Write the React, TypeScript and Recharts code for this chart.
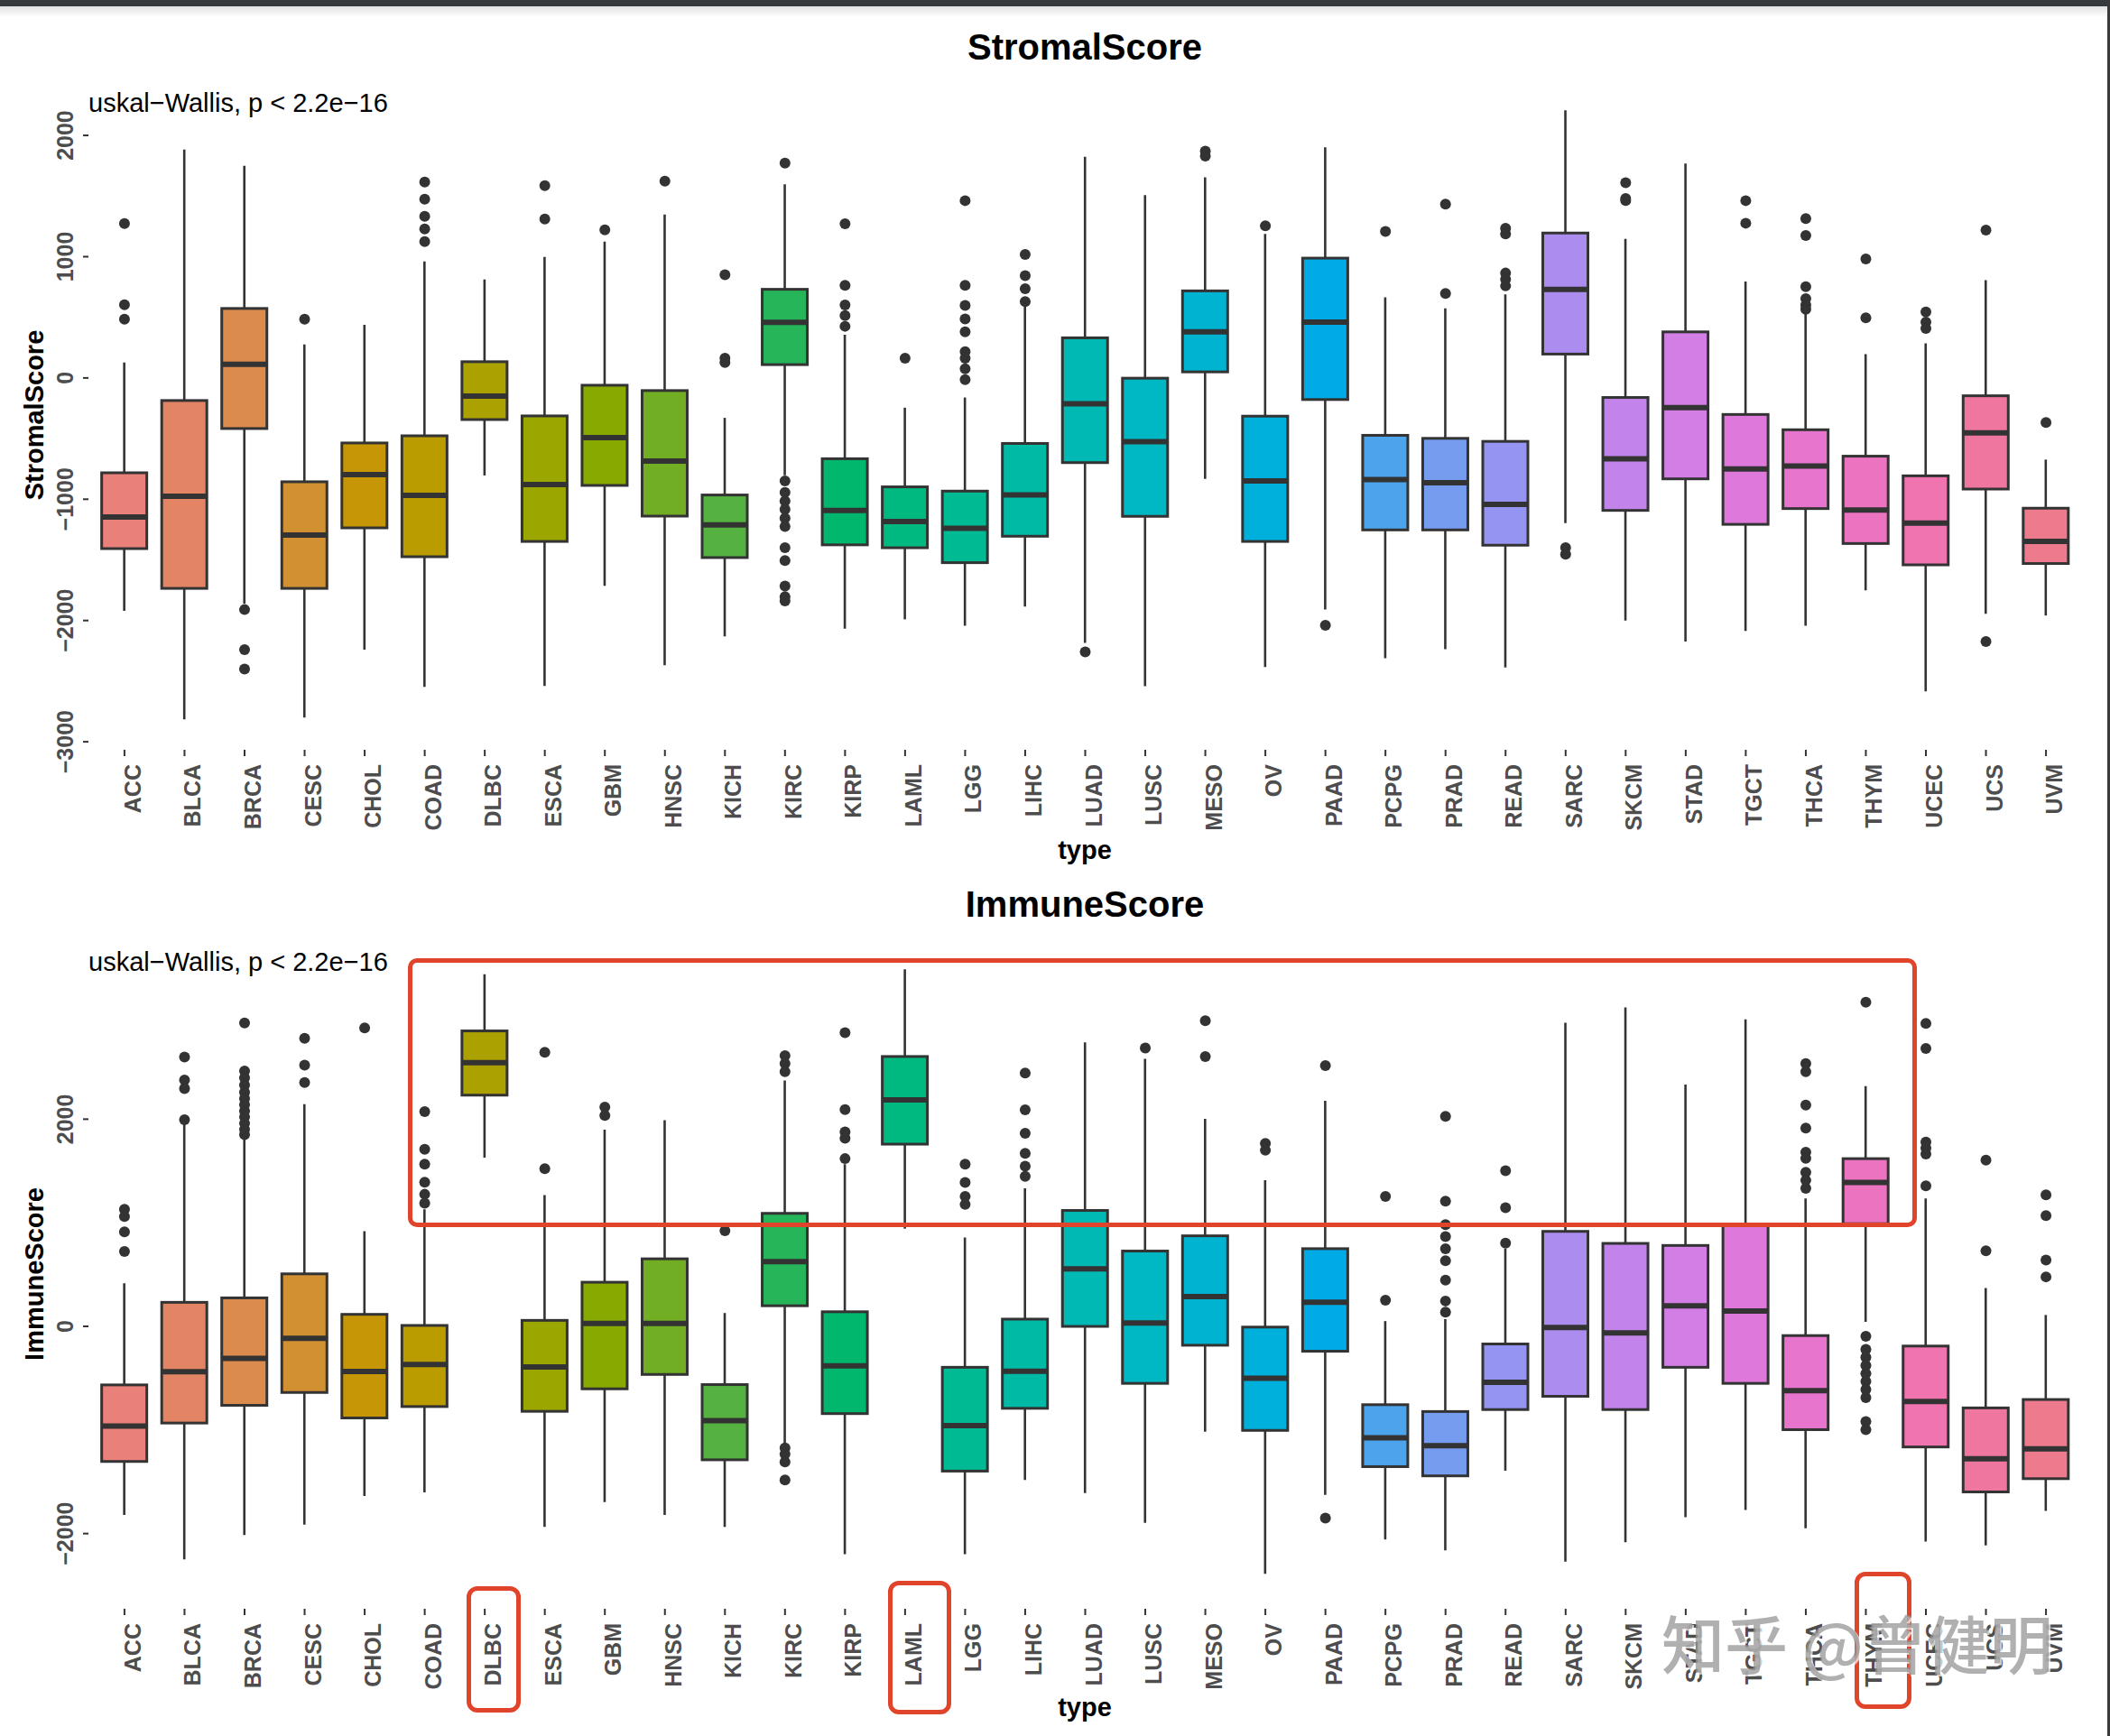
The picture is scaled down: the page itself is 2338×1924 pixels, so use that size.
import { ComposedChart, Bar, Scatter, XAxis, YAxis } from "recharts";

const FONT = '"Liberation Sans", Arial, Helvetica, sans-serif';

const types = ["ACC", "BLCA", "BRCA", "CESC", "CHOL", "COAD", "DLBC", "ESCA", "GBM", "HNSC", "KICH", "KIRC", "KIRP", "LAML", "LGG", "LIHC", "LUAD", "LUSC", "MESO", "OV", "PAAD", "PCPG", "PRAD", "READ", "SARC", "SKCM", "STAD", "TGCT", "THCA", "THYM", "UCEC", "UCS", "UVM"];

// StromalScore: whisker ends, quartiles, median, outliers
const stromalLow = [-1921, -2815, -1860, -2800, -2241, -2547, -804, -2539, -1713, -2368, -2131, -803, -2068, -1990, -2043, -1885, -2184, -2542, -832, -2384, -1910, -2310, -2236, -2387, -1197, -2001, -2173, -2086, -2043, -1751, -2584, -1945, -1959];
const stromalQ1 = [-1407, -1735, -417, -1735, -1236, -1474, -343, -1348, -886, -1139, -1481, 110, -1376, -1400, -1523, -1305, -698, -1141, 50, -1348, -178, -1253, -1253, -1379, 197, -1092, -832, -1207, -1077, -1365, -1541, -916, -1530];
const stromalMedian = [-1147, -975, 112, -1296, -797, -968, -149, -879, -491, -685, -1211, 458, -1092, -1183, -1239, -965, -213, -526, 380, -849, 461, -838, -863, -1042, 731, -666, -245, -751, -726, -1088, -1197, -452, -1348];
const stromalQ3 = [-782, -186, 573, -856, -536, -477, 134, -313, -60, -104, -965, 731, -666, -898, -933, -540, 331, -2, 718, -315, 988, -473, -498, -523, 1195, -161, 380, -301, -427, -645, -807, -147, -1074];
const stromalHigh = [127, 1884, 1750, 276, 439, 960, 812, 998, 1124, 1348, -329, 1596, 356, -245, -161, 590, 1824, 1508, 1655, 1188, 1901, 665, 573, 690, 2207, 1146, 1768, 795, 532, 197, 285, 806, -673];
const stromalOutliers = [
  [1273, 603, 484], [], [-1910, -2240, -2400], [484], [], [1616, 1474, 1333, 1229, 1124], [], [1586, 1310], [1221], [1623],
  [851, 162, 127], [1771, -849, -943, -1014, -1084, -1155, -1225, -1400, -1505, -1716, -1804, -1839], [1272, 763, 602, 514, 426], [162],
  [1462, 763, 598, 486, 380, 216, 162, 75, -13], [1019, 844, 735, 630], [-2258], [], [1870, 1830], [1255], [-2040], [1209], [1434, 696],
  [1234, 1188, 865, 813, 759], [-1400, -1453], [1610, 1480, 1463], [], [1462, 1276], [1314, 1174, 753, 654, 602, 567], [981, 496],
  [545, 461, 408], [1220, -2173], [-368],
];

// ImmuneScore
const immuneLow = [-1820, -2250, -2014, -1913, -1638, -1603, 1629, -1936, -1696, -1820, -1936, -1160, -2200, 944, -2200, -1482, -1610, -1897, -1017, -2388, -1626, -2057, -2161, -1393, -2270, -2084, -1843, -1773, -1948, 43, -2077, -2115, -1781];
const immuneQ1 = [-1304, -933, -762, -638, -884, -774, 2232, -820, -603, -464, -1288, 199, -842, 1759, -1397, -791, 0, -550, -182, -1004, -240, -1354, -1443, -803, -675, -803, -395, -550, -997, 991, -1164, -1598, -1470];
const immuneMedian = [-963, -438, -310, -116, -435, -368, 2545, -391, 29, 29, -911, 626, -380, 2186, -958, -434, 556, 32, 288, -500, 234, -1075, -1152, -539, -11, -62, 199, 149, -620, 1390, -725, -1277, -1183];
const immuneQ3 = [-565, 232, 275, 507, 116, 9, 2852, 58, 426, 652, -562, 1091, 141, 2605, -395, 70, 1119, 727, 874, -7, 750, -756, -822, -170, 917, 801, 781, 975, -89, 1619, -190, -787, -706];
const immuneHigh = [417, 1957, 1812, 2145, 919, 1130, 3400, 1267, 1899, 1991, 129, 2373, 1565, 3448, 858, 1332, 2742, 2583, 2003, 1410, 2178, 51, 70, 750, 2931, 3079, 2334, 2963, 1235, 2318, 1235, 370, 110];
const immuneOutliers = [
  [1130, 1061, 913, 722], [2600, 2377, 2296, 1994], [2928, 2464, 2400, 2330, 2260, 2200, 2140, 2080, 2020, 1960, 1900, 1850],
  [2780, 2522, 2354], [2881], [2072, 1710, 1565, 1391, 1275, 1188], [], [2646, 1522], [2116, 2035], [], [924],
  [2613, 2536, 2458, -1173, -1232, -1309, -1482], [2835, 2093, 1876, 1817, 1619], [], [1565, 1390, 1255, 1177],
  [2446, 2090, 1864, 1670, 1546, 1449], [], [2687], [2951, 2605], [1767, 1701], [2517, -1851], [1255, 253],
  [2027, 1208, 983, 866, 750, 634, 447, 245, 137], [1503, 1146, 804], [], [], [], [],
  [2536, 2458, 2136, 1915, 1682, 1623, 1488, 1410, 1332], [3130, -96, -221, -298, -376, -454, -531, -609, -687, -919, -997],
  [2924, 2683, 1779, 1721, 1663, 1356], [1604, 730], [1270, 1069, 641, 478],
];

// hue palette like ggplot2 (hcl), slightly lower chroma to match the screenshot
function hueColor(h: number) {
  const l = 65, c = 78;
  const hr = (h * Math.PI) / 180;
  const U = c * Math.cos(hr), V = c * Math.sin(hr);
  const Xn = 95.047, Yn = 100, Zn = 108.883;
  const Y = Yn * Math.pow((l + 16) / 116, 3);
  const den = Xn + 15 * Yn + 3 * Zn;
  const u = U / (13 * l) + (4 * Xn) / den;
  const v = V / (13 * l) + (9 * Yn) / den;
  const X = (9 * Y * u) / (4 * v);
  const Z = (Y * (12 - 3 * u - 20 * v)) / (4 * v);
  const x = X / 100, y = Y / 100, z = Z / 100;
  const lin = [
    3.2404542 * x - 1.5371385 * y - 0.4985314 * z,
    -0.969266 * x + 1.8760108 * y + 0.041556 * z,
    0.0556434 * x - 0.2040259 * y + 1.0572252 * z,
  ];
  return "#" + lin.map((ch) => {
    const g = ch <= 0.0031308 ? 12.92 * ch : 1.055 * Math.pow(ch, 1 / 2.4) - 0.055;
    return Math.round(Math.min(1, Math.max(0, g)) * 255).toString(16).padStart(2, "0");
  }).join("");
}
const palette = types.map((_, i) => hueColor(15 + (360 * i) / types.length));

type Row = { idx: number; range: [number, number]; low: number; q1: number; median: number; q3: number; high: number };

function buildRows(low: number[], q1: number[], med: number[], q3: number[], high: number[]): Row[] {
  return types.map((_, i) => ({ idx: i, range: [low[i], high[i]], low: low[i], q1: q1[i], median: med[i], q3: q3[i], high: high[i] }));
}
function buildPoints(outliers: number[][]) {
  return outliers.flatMap((arr, i) => arr.map((value) => ({ idx: i, value })));
}

const stromalRows = buildRows(stromalLow, stromalQ1, stromalMedian, stromalQ3, stromalHigh);
const immuneRows = buildRows(immuneLow, immuneQ1, immuneMedian, immuneQ3, immuneHigh);
const stromalPoints = buildPoints(stromalOutliers);
const immunePoints = buildPoints(immuneOutliers);

const INK = "#333333";

function makeBox(rows: Row[]) {
  return (props: any) => {
    const { x, y, width, height, index } = props;
    const r = rows[index];
    const top = Math.min(y, y + height);
    const h = Math.abs(height);
    const py = (val: number) => top + ((r.high - val) / (r.high - r.low)) * h;
    const cx = x + width / 2;
    return (
      <g>
        <line x1={cx} x2={cx} y1={top} y2={top + h} stroke={INK} strokeWidth={2.6} />
        <rect x={x} y={py(r.q3)} width={width} height={py(r.q1) - py(r.q3)} fill={palette[index]} stroke={INK} strokeWidth={3} />
        <line x1={x} x2={x + width} y1={py(r.median)} y2={py(r.median)} stroke={INK} strokeWidth={6} />
      </g>
    );
  };
}

const Dot = (p: any) => <circle cx={p.cx} cy={p.cy} r={6} fill={INK} />;

const XTick = ({ x, y, payload }: any) => {
  const tx = x + 9, ty = y + 7;
  return (
    <text x={tx} y={ty} transform={`rotate(-90, ${tx}, ${ty})`} textAnchor="end" dominantBaseline="central"
      fontSize={25} fontWeight="bold" fill="#4D4D4D" fontFamily={FONT}>
      {types[payload.value]}
    </text>
  );
};

const YTick = ({ y, payload }: any) => (
  <text x={72} y={y} transform={`rotate(-90, 72, ${y})`} textAnchor="middle" dominantBaseline="central"
    fontSize={25} fontWeight="bold" fill="#4D4D4D" fontFamily={FONT}>
    {String(payload.value).replace("-", "\u2212")}
  </text>
);

function Panel({ rows, points, domain, ticks, top, height, marginTop, marginBottom }: {
  rows: Row[]; points: { idx: number; value: number }[]; domain: [number, number]; ticks: number[];
  top: number; height: number; marginTop: number; marginBottom: number;
}) {
  return (
    <div style={{ position: "absolute", left: 0, top, width: 2338, height }}>
      <ComposedChart width={2338} height={height} data={rows} margin={{ top: marginTop, right: 31, bottom: marginBottom, left: 0 }}>
        <XAxis dataKey="idx" type="number" domain={[-0.6, 32.6]} ticks={types.map((_, i) => i)} interval={0}
          height={120} axisLine={false} tickSize={7} tickMargin={2} tickLine={{ stroke: INK, strokeWidth: 2 }}
          tick={(p: any) => <XTick {...p} />} allowDataOverflow />
        <YAxis type="number" domain={domain} ticks={ticks} width={98} axisLine={false} tickSize={6}
          tickLine={{ stroke: INK, strokeWidth: 2 }} tick={(p: any) => <YTick {...p} />} allowDataOverflow />
        <Bar dataKey="range" barSize={50} shape={makeBox(rows)} isAnimationActive={false} />
        <Scatter data={points} dataKey="value" shape={Dot} isAnimationActive={false} />
      </ComposedChart>
    </div>
  );
}

const Txt = ({ x, y, size, bold, rotate, children }: any) => (
  <div style={{
    position: "absolute", left: x, top: y, whiteSpace: "nowrap", fontSize: size, fontWeight: bold ? "bold" : "normal",
    color: "#000", lineHeight: 1, transform: `translate(-50%, -50%)${rotate ? " rotate(-90deg)" : ""}`,
  }}>
    {children}
  </div>
);

// the p-value note is clipped at the panel's left edge, as in the source figure
const Kruskal = ({ y }: { y: number }) => (
  <div style={{ position: "absolute", left: 98, top: y - 19, width: 600, height: 38, overflow: "hidden" }}>
    <div style={{ marginLeft: -29, fontSize: 29, lineHeight: "38px", whiteSpace: "nowrap", color: "#000" }}>
      Kruskal{"\u2212"}Wallis, p &lt; 2.2e{"\u2212"}16
    </div>
  </div>
);

const RedBox = ({ x, y, w, h, r }: any) => (
  <div style={{ position: "absolute", left: x, top: y, width: w, height: h, boxSizing: "border-box", border: "5px solid #E0442B", borderRadius: r }} />
);

export default function App() {
  return (
    <div style={{ position: "absolute", left: 0, top: 0, width: 2338, height: 1924, background: "#fff", overflow: "hidden", fontFamily: FONT }}>
      <div style={{ position: "absolute", left: 0, top: 0, width: 2338, height: 7, background: "#36393d" }} />
      <div style={{ position: "absolute", left: 0, top: 7, width: 2338, height: 12, background: "linear-gradient(#e2e2e2, #ffffff)" }} />
      <div style={{ position: "absolute", left: 2335, top: 0, width: 3, height: 1924, background: "#3a3a3a" }} />

      <Panel rows={stromalRows} points={stromalPoints} domain={[-3066, 2458]} ticks={[-3000, -2000, -1000, 0, 1000, 2000]}
        top={0} height={960} marginTop={88.5} marginBottom={9} />
      <Panel rows={immuneRows} points={immunePoints} domain={[-2726, 3740]} ticks={[-2000, 0, 2000]}
        top={960} height={964} marginTop={80.6} marginBottom={21} />

      <Txt x={1202} y={52} size={40} bold>StromalScore</Txt>
      <Kruskal y={114} />
      <Txt x={38} y={460} size={29} bold rotate>StromalScore</Txt>
      <Txt x={1202} y={942} size={29} bold>type</Txt>

      <Txt x={1202} y={1002} size={40} bold>ImmuneScore</Txt>
      <Kruskal y={1066} />
      <Txt x={38} y={1412} size={29} bold rotate>ImmuneScore</Txt>
      <Txt x={1202} y={1892} size={29} bold>type</Txt>

      <RedBox x={452} y={1062} w={1672} h={298} r={10} />
      <RedBox x={517} y={1758} w={60} h={140} r={12} />
      <RedBox x={984} y={1752} w={70} h={148} r={12} />
      <RedBox x={2055} y={1742} w={63} h={152} r={12} />

      <div style={{
        position: "absolute", left: 1841, top: 1785, fontSize: 70, fontWeight: 500, whiteSpace: "nowrap", lineHeight: 1,
        fontFamily: '"Noto Sans CJK SC", sans-serif', color: "rgba(150,150,150,0.75)", textShadow: "2px 2px 0 rgba(255,255,255,0.7)",
      }}>
        知乎 @曾健明
      </div>
    </div>
  );
}
